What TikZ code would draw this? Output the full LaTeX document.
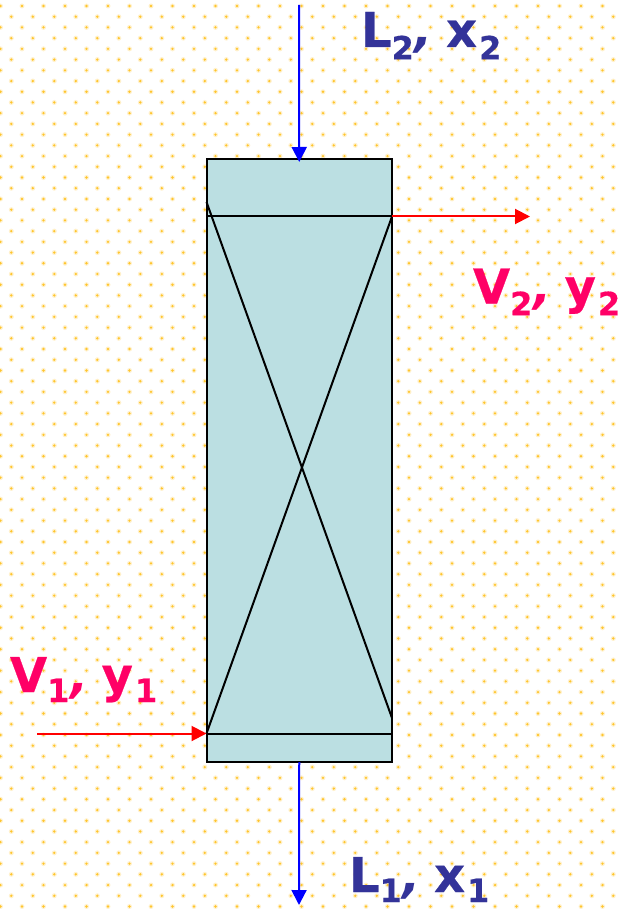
\documentclass[tikz,border=0pt]{standalone}
\usepackage{fontspec}
\usetikzlibrary{arrows.meta}
\setmainfont{DejaVu Sans}[BoldFont={DejaVu Sans Bold},BoldFeatures={FakeBold=0.5},BoldItalicFont={DejaVu Sans Bold Oblique}]
\definecolor{dotc}{HTML}{FFC52E}
\definecolor{dotl}{HTML}{FFF1CC}
\definecolor{colfill}{HTML}{BBDFE2}
\definecolor{ltxt}{HTML}{333399}
\definecolor{vtxt}{HTML}{FF0066}
% #1 letter, #2 index, #3 letter, #4 index, #5 drop of the indices
\newcommand{\streamlab}[5]{\bfseries\fontsize{48}{48}\selectfont\smash{#1\raisebox{-#5}{\fontsize{32}{32}\selectfont #2}\kern1pt{\itshape ,}\kern 13pt #3\kern 2pt\raisebox{-#5}{\fontsize{32}{32}\selectfont #4}}}
\tikzset{
  column/.style={draw=black,line width=2pt,fill=colfill,minimum width=185.5pt,minimum height=603pt,inner sep=0pt,outer sep=0pt},
  inner line/.style={black,line width=2pt},
  blue flow/.style={draw={rgb,255:red,0;green,0;blue,255},line width=2pt,-{Triangle[length=15pt,width=15pt]}},
  red flow/.style={draw={rgb,255:red,255;green,0;blue,0},line width=2pt,-{Triangle[length=15pt,width=15pt]}},
  stream text/.style={anchor=base west,inner sep=0pt,outer sep=0pt}
}
\begin{document}
\begin{tikzpicture}[x=1pt,y=-1pt]
\useasboundingbox (0,0) rectangle (621,909);
\fill[white] (0,0) rectangle (621,909);
% dotted background
\foreach \r in {0,...,84}{
  \pgfmathsetmacro{\yy}{6+10.72*\r}
  \pgfmathsetmacro{\xo}{mod(\r,2)==0 ? 0.5 : 11.3}
  \foreach \c in {0,...,28}{
    \pgfmathsetmacro{\xx}{\xo+21.5*\c}
    \fill[dotl] (\xx,\yy) circle[radius=2.5pt];
    \fill[dotc] (\xx,\yy) circle[radius=1.3pt];
  }
}
% column
\node[column] (col) at (299.25,460.5) {};
\coordinate (tl) at (206.5,216.5);
\coordinate (tr) at (392,216.5);
\coordinate (bl) at (206.5,733.5);
\coordinate (br) at (392,733.5);
\coordinate (dtl) at (206.5,202);
\coordinate (dbr) at (392,718);
\draw[inner line] (tl) -- (tr);
\draw[inner line] (bl) -- (br);
\draw[inner line] (dtl) -- (dbr);
\draw[inner line] (tr) -- (bl);
% flows
\coordinate (Lin) at (299,5);
\coordinate (Lout) at (299,905);
\coordinate (Vin) at (37,733.5);
\coordinate (Vout) at (530,216.5);
\draw[blue flow] (Lin) -- ([yshift=-3pt]col.north);
\draw[blue flow] (col.south) -- (Lout);
\draw[red flow] (tr) -- (Vout);
\draw[red flow] (Vin) -- (bl);
% labels
\node[stream text,text=ltxt] (l2) at (361,47) {\streamlab{L}{2}{x}{2}{12.4pt}};
\node[stream text,text=vtxt] (v2) at (473,303.5) {\streamlab{V}{2}{y}{2}{11.7pt}};
\node[stream text,text=vtxt] (v1) at (10,692) {\streamlab{V}{1}{y}{1}{10pt}};
\node[stream text,text=ltxt] (l1) at (349,892) {\streamlab{L}{1}{x}{1}{10pt}};
\end{tikzpicture}
\end{document}
